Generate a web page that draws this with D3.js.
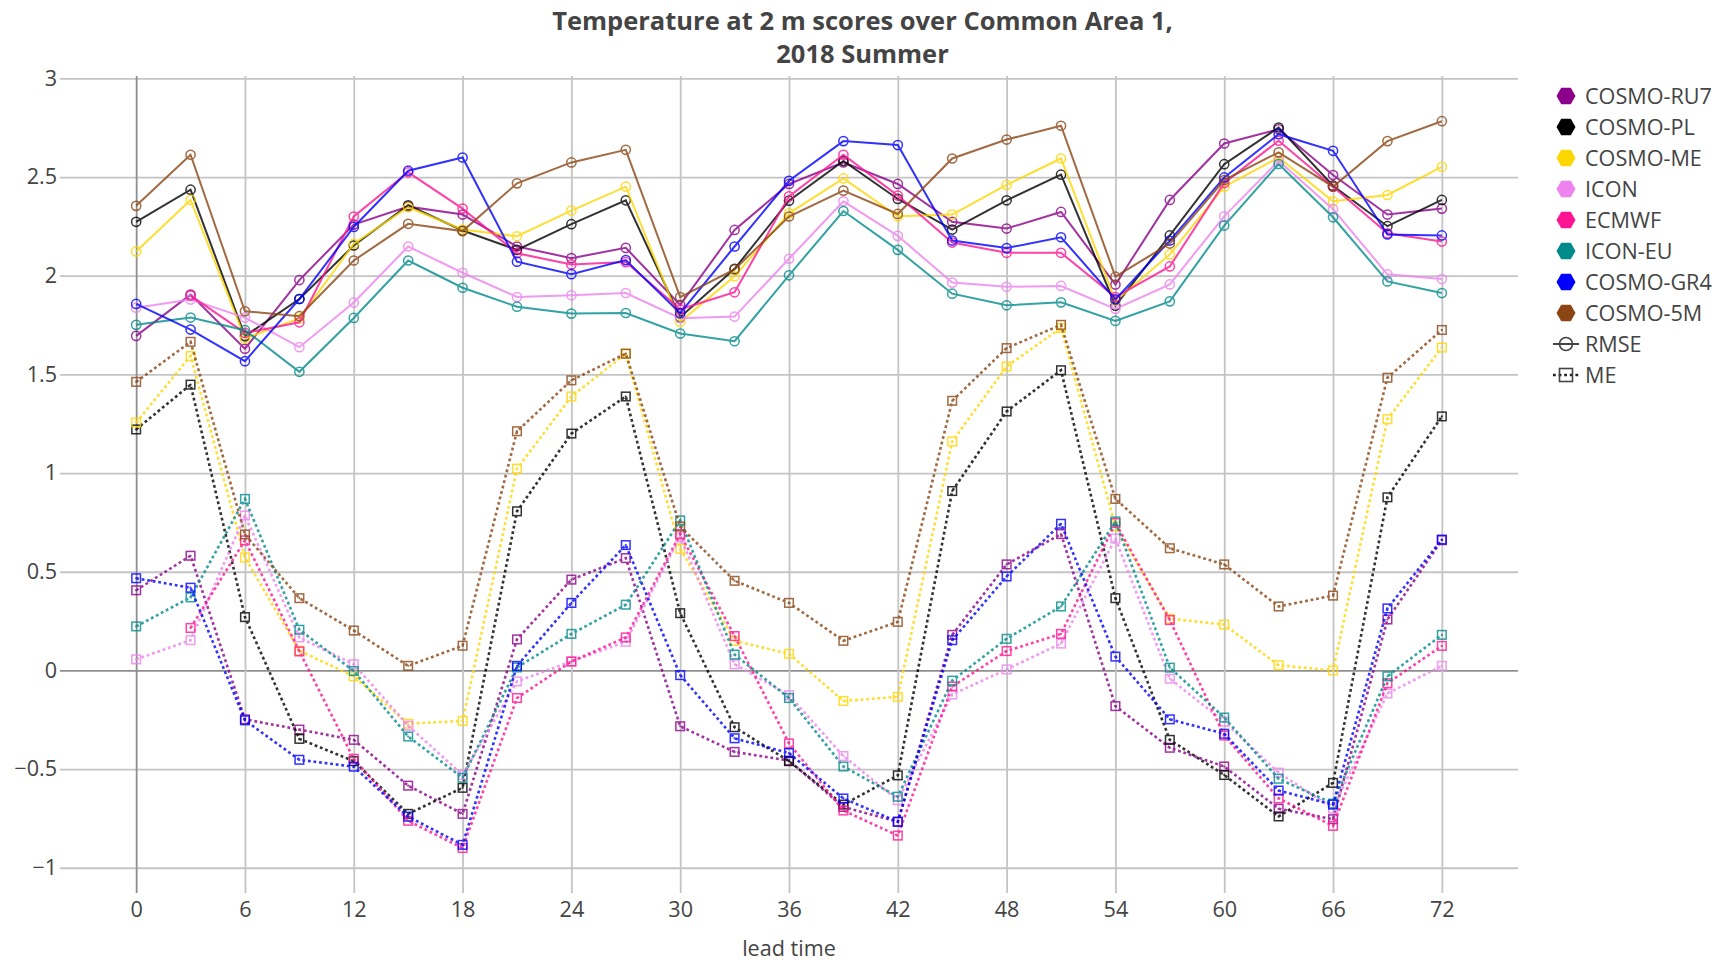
<!DOCTYPE html>
<html>
<head>
<meta charset="utf-8">
<script src="https://cdn.jsdelivr.net/npm/d3@7"></script>
<style>
  body { margin: 0; background: #fff; }
  svg { display: block; font-family: "Open Sans", sans-serif; }
</style>
</head>
<body>
<div id="chart"></div>
<script>
const leadTimes = d3.range(0, 73, 3);
const models = ["COSMO-RU7", "COSMO-PL", "COSMO-ME", "ICON", "ECMWF", "ICON-EU", "COSMO-GR4", "COSMO-5M"];
const modelColors = ["#8b008b", "#000000", "#ffd700", "#ee82ee", "#ff1493", "#008b8b", "#0000ff", "#8b4513"];
const xTicks = d3.range(0, 73, 6);
const yTicks = [-1, -0.5, 0, 0.5, 1, 1.5, 2, 2.5, 3];

// RMSE per model, lead 0..72 every 3 h
const rmseRU7 = [1.695, 1.904, 1.630, 1.978, 2.259, 2.350, 2.310, 2.148, 2.089, 2.141, 1.852, 2.232, 2.465, 2.574, 2.465, 2.273, 2.239, 2.323, 1.955, 2.384, 2.670, 2.742, 2.510, 2.310, 2.340];
const rmsePL = [2.273, 2.436, 1.694, 1.882, 2.153, 2.357, 2.229, 2.131, 2.261, 2.382, 1.790, 2.035, 2.380, 2.582, 2.389, 2.234, 2.382, 2.512, 1.848, 2.204, 2.565, 2.751, 2.456, 2.251, 2.384];
const rmseME = [2.123, 2.384, 1.682, 1.783, 2.162, 2.347, 2.234, 2.200, 2.330, 2.451, 1.766, 1.997, 2.316, 2.493, 2.301, 2.310, 2.460, 2.594, 1.872, 2.108, 2.451, 2.599, 2.377, 2.409, 2.552];
const rmseICON = [1.838, 1.879, 1.788, 1.638, 1.864, 2.148, 2.015, 1.892, 1.901, 1.912, 1.785, 1.793, 2.086, 2.377, 2.202, 1.965, 1.944, 1.948, 1.832, 1.956, 2.301, 2.582, 2.337, 2.007, 1.983];
const rmseECMWF = [null, 1.899, 1.710, 1.764, 2.300, 2.524, 2.340, 2.114, 2.057, 2.069, 1.830, 1.916, 2.402, 2.613, 2.406, 2.168, 2.116, 2.116, 1.892, 2.047, 2.470, 2.684, 2.451, 2.215, 2.173];
const rmseICONEU = [1.751, 1.788, 1.724, 1.513, 1.786, 2.077, 1.939, 1.843, 1.808, 1.811, 1.707, 1.668, 2.002, 2.328, 2.131, 1.909, 1.850, 1.865, 1.771, 1.870, 2.254, 2.566, 2.296, 1.971, 1.912];
const rmseGR4 = [1.857, 1.727, 1.567, 1.882, 2.247, 2.532, 2.599, 2.071, 2.008, 2.079, 1.810, 2.148, 2.481, 2.682, 2.662, 2.178, 2.140, 2.195, 1.880, 2.178, 2.498, 2.717, 2.633, 2.209, 2.204];
const rmse5M = [2.354, 2.613, 1.820, 1.795, 2.077, 2.263, 2.226, 2.468, 2.574, 2.638, 1.892, 2.032, 2.300, 2.431, 2.313, 2.594, 2.690, 2.760, 1.995, 2.163, 2.485, 2.625, 2.451, 2.682, 2.783];

// ME per model
const meRU7 = [0.406, 0.581, -0.248, -0.300, -0.352, -0.584, -0.727, 0.157, 0.460, 0.569, -0.283, -0.413, -0.457, -0.692, -0.767, 0.180, 0.537, 0.691, -0.181, -0.392, -0.487, -0.701, -0.754, 0.258, 0.660];
const mePL = [1.221, 1.448, 0.270, -0.347, -0.460, -0.727, -0.595, 0.806, 1.200, 1.388, 0.290, -0.288, -0.460, -0.680, -0.532, 0.909, 1.312, 1.521, 0.366, -0.352, -0.530, -0.740, -0.570, 0.877, 1.287];
const meME = [1.256, 1.593, 0.572, 0.100, -0.030, -0.270, -0.256, 1.022, 1.388, 1.605, 0.616, 0.150, 0.084, -0.155, -0.134, 1.160, 1.540, 1.735, 0.730, 0.262, 0.232, 0.026, 0.000, 1.273, 1.636];
const meICON = [0.056, 0.153, 0.785, 0.167, 0.031, -0.280, -0.530, -0.056, 0.045, 0.145, 0.677, 0.031, -0.126, -0.434, -0.658, -0.122, 0.005, 0.136, 0.668, -0.042, -0.260, -0.518, -0.700, -0.117, 0.023];
const meECMWF = [null, 0.215, 0.659, 0.096, -0.448, -0.762, -0.900, -0.140, 0.045, 0.167, 0.691, 0.174, -0.370, -0.710, -0.837, -0.082, 0.098, 0.185, 0.747, 0.255, -0.330, -0.649, -0.788, -0.065, 0.124];
const meICONEU = [0.223, 0.370, 0.869, 0.206, -0.003, -0.335, -0.544, 0.015, 0.185, 0.333, 0.760, 0.080, -0.140, -0.487, -0.640, -0.052, 0.160, 0.324, 0.755, 0.014, -0.239, -0.549, -0.675, -0.030, 0.180];
const meGR4 = [0.467, 0.419, -0.253, -0.453, -0.488, -0.741, -0.884, 0.023, 0.342, 0.635, -0.024, -0.344, -0.419, -0.649, -0.767, 0.153, 0.476, 0.743, 0.070, -0.248, -0.321, -0.609, -0.680, 0.314, 0.663];
const me5M = [1.462, 1.665, 0.689, 0.366, 0.202, 0.023, 0.125, 1.212, 1.470, 1.605, 0.729, 0.454, 0.342, 0.150, 0.246, 1.366, 1.633, 1.751, 0.869, 0.619, 0.537, 0.324, 0.379, 1.483, 1.725];

const rmseByModel = [rmseRU7, rmsePL, rmseME, rmseICON, rmseECMWF, rmseICONEU, rmseGR4, rmse5M];
const meByModel = [meRU7, mePL, meME, meICON, meECMWF, meICONEU, meGR4, me5M];

function drawChart() {
  const width = 1725;
  const height = 963;
  const plot = { left: 60, right: 1518, top: 76, bottom: 893 };
  const textColor = "#444";

  const svg = d3.select("#chart")
    .append("svg")
    .attr("width", width)
    .attr("height", height);

  const x = d3.scaleLinear().domain([-4.2, 76.2]).range([plot.left, plot.right]);
  const y = d3.scaleLinear().domain([-1.128, 3.012]).range([plot.bottom, plot.top]);

  // gridlines
  svg.append("g")
    .attr("class", "ygrid")
    .attr("transform", `translate(${plot.left},0)`)
    .call(d3.axisLeft(y).tickValues(yTicks).tickSize(-(plot.right - plot.left)).tickFormat(""))
    .call((g) => g.select(".domain").remove())
    .call((g) => g.selectAll("line")
      .attr("stroke", (d) => d === 0 ? "#8f8f8f" : "#c4c4c4")
      .attr("stroke-width", 1.8));

  svg.append("g")
    .attr("class", "xgrid")
    .attr("transform", `translate(0,${plot.bottom})`)
    .call(d3.axisBottom(x).tickValues(xTicks).tickSize(-(plot.bottom - plot.top)).tickFormat(""))
    .call((g) => g.select(".domain").remove())
    .call((g) => g.selectAll("line")
      .attr("stroke", (d) => d === 0 ? "#8f8f8f" : "#c4c4c4")
      .attr("stroke-width", 1.8));

  // tick labels
  svg.append("g")
    .attr("transform", `translate(0,${plot.bottom})`)
    .call(d3.axisBottom(x).tickValues(xTicks).tickSize(0).tickPadding(8.5))
    .call((g) => g.select(".domain").remove())
    .call((g) => g.selectAll("text")
      .attr("fill", textColor)
      .attr("font-size", 21.6)
      .attr("font-family", "Open Sans"));

  svg.append("g")
    .attr("transform", `translate(${plot.left},0)`)
    .call(d3.axisLeft(y).tickValues(yTicks).tickSize(0).tickPadding(3).tickFormat(d3.format("")))
    .call((g) => g.select(".domain").remove())
    .call((g) => g.selectAll("text")
      .attr("fill", textColor)
      .attr("font-size", 21.6)
      .attr("font-family", "Open Sans"));

  const line = d3.line()
    .defined((d) => d.value != null)
    .x((d) => x(d.lead))
    .y((d) => y(d.value));

  const traces = svg.append("g").attr("class", "traces");

  models.forEach((name, i) => {
    const color = modelColors[i];
    const rmse = leadTimes.map((lead, j) => ({ lead, value: rmseByModel[i][j] }));
    const me = leadTimes.map((lead, j) => ({ lead, value: meByModel[i][j] }));

    // RMSE: solid line + open circles
    const gr = traces.append("g").attr("opacity", 0.8);
    gr.append("path")
      .datum(rmse)
      .attr("d", line)
      .attr("fill", "none")
      .attr("stroke", color)
      .attr("stroke-width", 2);
    gr.selectAll("circle.m")
      .data(rmse.filter((d) => d.value != null))
      .join("circle")
      .attr("class", "m")
      .attr("cx", (d) => x(d.lead))
      .attr("cy", (d) => y(d.value))
      .attr("r", 4.6)
      .attr("fill", "none")
      .attr("stroke", color)
      .attr("stroke-width", 1.5);

    // ME: dotted line + open squares with dot
    const gm = traces.append("g").attr("opacity", 0.8);
    gm.append("path")
      .datum(me)
      .attr("d", line)
      .attr("fill", "none")
      .attr("stroke", color)
      .attr("stroke-width", 2.6)
      .attr("stroke-dasharray", "2.8,2.8");
    gm.selectAll("rect.m")
      .data(me.filter((d) => d.value != null))
      .join("rect")
      .attr("class", "m")
      .attr("x", (d) => x(d.lead) - 4.3)
      .attr("y", (d) => y(d.value) - 4.3)
      .attr("width", 8.6)
      .attr("height", 8.6)
      .attr("fill", "none")
      .attr("stroke", color)
      .attr("stroke-width", 1.5);
    gm.selectAll("circle.dot")
      .data(me.filter((d) => d.value != null))
      .join("circle")
      .attr("class", "dot")
      .attr("cx", (d) => x(d.lead))
      .attr("cy", (d) => y(d.value))
      .attr("r", 1.1)
      .attr("fill", color);
  });

  // title
  const title = svg.append("text")
    .attr("x", width / 2)
    .attr("text-anchor", "middle")
    .attr("fill", textColor)
    .attr("font-size", 25.5)
    .attr("font-weight", "bold");
  title.append("tspan").attr("x", width / 2).attr("y", 29.5).text("Temperature at 2 m scores over Common Area 1,");
  title.append("tspan").attr("x", width / 2).attr("y", 63).text("2018 Summer");

  // axis title
  svg.append("text")
    .attr("x", (plot.left + plot.right) / 2)
    .attr("y", 956)
    .attr("text-anchor", "middle")
    .attr("fill", textColor)
    .attr("font-size", 21.6)
    .text("lead time");

  // legend
  const legendX = 1566;
  const legendY = 96;
  const step = 31;
  const hex = d3.range(6).map((k) => {
    const a = (Math.PI / 3) * k;
    return [9.5 * Math.cos(a), 9.5 * Math.sin(a)];
  });

  const legend = svg.append("g").attr("class", "legend");
  models.forEach((name, i) => {
    const item = legend.append("g")
      .attr("transform", `translate(${legendX},${legendY + i * step})`);
    item.append("polygon")
      .attr("points", hex.map((p) => p.join(",")).join(" "))
      .attr("fill", modelColors[i]);
    item.append("text")
      .attr("x", 19)
      .attr("dy", "0.35em")
      .attr("fill", textColor)
      .attr("font-size", 21.6)
      .text(name);
  });

  const rmseItem = legend.append("g")
    .attr("transform", `translate(${legendX},${legendY + 8 * step})`);
  rmseItem.append("line").attr("x1", -13).attr("x2", 13)
    .attr("stroke", textColor).attr("stroke-width", 2);
  rmseItem.append("circle").attr("r", 6.5)
    .attr("fill", "none").attr("stroke", textColor).attr("stroke-width", 1.6);
  rmseItem.append("text").attr("x", 19).attr("dy", "0.35em")
    .attr("fill", textColor).attr("font-size", 21.6).text("RMSE");

  const meItem = legend.append("g")
    .attr("transform", `translate(${legendX},${legendY + 9 * step})`);
  meItem.append("line").attr("x1", -13).attr("x2", 13)
    .attr("stroke", "#222").attr("stroke-width", 2.6).attr("stroke-dasharray", "2.8,2.8");
  meItem.append("rect").attr("x", -6.5).attr("y", -6.5).attr("width", 13).attr("height", 13)
    .attr("fill", "none").attr("stroke", textColor).attr("stroke-width", 1.6);
  meItem.append("text").attr("x", 19).attr("dy", "0.35em")
    .attr("fill", textColor).attr("font-size", 21.6).text("ME");
}

document.addEventListener("DOMContentLoaded", drawChart);
</script>
</body>
</html>
